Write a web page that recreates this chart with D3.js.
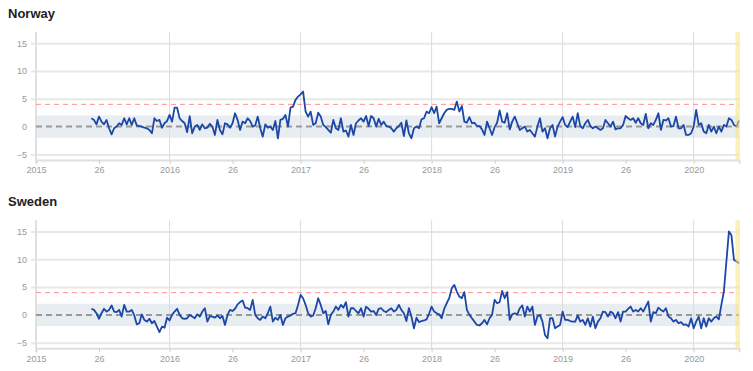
<!DOCTYPE html>
<html lang="en">
  <head>
    <meta charset="utf-8">
    <title>Weekly z-scores: Norway and Sweden</title>
    <style>
      body { margin: 0; background: #fff; }
      svg { font-family: "Liberation Sans", Arial, sans-serif; display: block; }
      .title { font-weight: bold; font-size: 13px; fill: #222; }
      .tick text { fill: #999; font-size: 9px; }
    </style>
  </head>
  <body>
    <div id="viz"></div>
    <script src="https://cdn.jsdelivr.net/npm/d3@7/dist/d3.min.js"></script>
    <script>
      // weeks are counted from 2015 week 1 (index 0)
      const firstWeek = 22
      const lastWeek = 279
      const delayedWeeks = [278, 279]

      const countries = ['Norway', 'Sweden']

      const norway = [
        // 2015
        1.5, 1.2, 0.4, 1.8, 0.9, 0.4, 1.2, -0.3, -1.4, -0.3, 0, 0.6, 0.3, 1.5, 0.4, 1.5, 0.3, 1.5, 0.2, 0.1,
        0, -0.2, -0.3, -0.6, -1.2, 1.5, 1.0, 1.2, -0.2, 0.6, 1.0,
        // 2016
        2.1, 0.9, 3.4, 3.4, 1.5, 1.0, 0.6, -1.0, 1.9, -1.2, 0, 0.3, -0.6, 0.4, -0.3, -0.2, 0.5, 0, -1.5, 1.2,
        -0.6, -1.4, 0.6, 0.4, -0.2, 0.6, 2.4, 1.2, -0.6, 0.9, 0.6, 1.5, 1.0, 0, 0.2, 1.8, -0.3, -1.8, 0.4, -0.2,
        0, -0.6, 1.0, -2.1, 1.2, 1.4, 2.1, 0, 3.4, 3.6, 4.8, 5.4,
        // 2017
        5.8, 6.3, 2.7, 1.8, 2.7, 0.3, 0.6, 2.5, 1.8, 0.3, -0.1, -0.6, -1.1, 1.2, -0.3, -0.6, 1.5, -0.9, -0.7, -1.8,
        0.3, -1.5, 0.6, 1.1, 1.5, 0.9, 1.9, 0.1, 1.9, 1.5, 0, 1.4, 0.3, 0.9, 0.1, 0, -0.3, -0.9, -0.3, 0.1,
        0.7, -1.7, 1.1, -1.2, -2.1, -0.3, 0, -0.3, 1.3, 1.5, 2.7, 2.4,
        // 2018
        3.5, 2.4, 3.6, 0.6, 1.5, 2.4, 3.0, 3.2, 3.2, 3.0, 4.5, 2.7, 3.7, 0.9, 0.7, 1.7, 0.6, 0.7, 0.1, 0.1,
        -0.5, -1.5, 0.9, -0.3, -1.5, -0.1, 0.7, 2.9, 0.9, 0.7, 2.4, -0.5, 0.9, 1.8, 0.6, -0.6, -0.3, 0, -0.9, -0.6,
        -1.2, -1.8, 0, 1.5, -0.9, -0.3, -2.1, -0.3, 0.3, -1.8, 0, 0.9,
        // 2019
        1.7, 0.3, -0.1, 0.9, 1.8, -0.1, 2.4, 0.1, -0.3, 0.6, 1.2, 0.1, -0.3, 0, -0.3, -0.6, -0.3, 1.2, 0.6, 0,
        0.9, -0.5, -0.3, -0.3, 0.3, 1.9, 1.5, 1.2, 1.5, 0.7, 1.5, 0.6, 0.3, 2.3, -0.3, 0.6, 0.3, 1.2, 2.4, -0.6,
        1.2, 1.1, 1.5, 0, 0.1, 1.8, -0.3, -0.3, 0.3, -1.5, -1.5, -1.2,
        // 2020
        0, 3.0, 0.3, 0.6, -0.9, -1.2, 0.3, -0.9, 0, -1.2, 0, -0.9, 0.3, 0, 1.5, 1.2, 0.3, 0, 1.1
      ]

      const sweden = [
        // 2015
        1.1, 0.9, 0.3, -0.7, 0.3, 1.1, 0.6, 0.9, 1.7, 0.6, 0.5, 0.9, -0.3, 1.8, 0.6, 0.6, 0.9, -0.1, -1.7, -1.5,
        0.1, -0.9, -1.2, -0.7, -1.5, -1.1, -2.1, -3.1, -2.1, -2.3, -0.5,
        // 2016
        -1.0, 0, 0.6, 1.1, 0, -0.6, -0.7, -0.6, 0, -0.3, -0.6, 0.1, -0.3, 0.6, 1.2, -1.2, -0.2, -0.3, -0.5, -0.1,
        -0.6, -0.2, -1.8, 0, 0.9, 0.7, 1.1, 1.9, 2.3, 2.6, 1.3, 1.2, 0.9, 2.7, 0, -0.6, -0.9, -0.3, -0.6, 0.3,
        1.5, -1.2, -0.5, -0.9, 0, -1.8, -0.6, -0.3, -0.1, 0.2, 0.3, 1.8,
        // 2017
        3.6, 3.0, 1.8, 0.3, -0.3, -0.1, 1.2, 3.0, 1.8, 0.3, 0.7, -1.7, 0, 0.6, 1.5, 0.9, 1.8, 1.3, 2.3, -0.3,
        1.2, 1.2, 0.7, 0.3, 1.2, -0.3, 1.5, 1.1, 0.6, 0.7, 0, 1.1, 1.2, 0.7, 0.5, 0.9, 1.2, 0.6, 0.9, 1.8,
        0.9, 0.3, -1.1, 1.2, -0.3, -2.4, -0.5, -1.3, -1.1, -1.0, -0.8, 0.2,
        // 2018
        1.5, 0.6, 0.3, 0.1, -0.6, 1.1, 2.1, 3.0, 4.8, 5.4, 4.2, 3.3, 3.0, 4.1, 0.9, 0, -0.6, -1.2, -1.8, -1.9,
        -1.5, -0.9, -1.7, -0.6, 0, 2.7, 2.1, 2.3, 4.3, 3.0, 4.1, -0.9, 0.1, 0.3, 0.1, 1.2, 1.7, -0.3, 1.5, 0.6,
        1.5, -1.8, -0.3, 0, -1.2, -3.6, -4.2, -0.6, -0.6, -2.4, -2.1, -1.8,
        // 2019
        0.6, -0.9, -0.9, -1.1, -1.2, -1.2, -0.1, -1.2, -0.9, -1.8, -0.6, -2.1, -0.3, -2.4, -1.2, -0.6, 0.6, 0.5, -0.3, 0.6,
        0.3, -0.6, 0.5, -1.2, 0.6, 0.6, 1.1, 1.5, 0.6, 0.9, 0.6, 1.2, 0.6, 1.5, 2.4, -1.2, 0.5, 0.3, 1.3, 0.9,
        0.6, 1.2, -0.3, -0.6, -1.2, -0.9, -1.5, -1.3, -1.8, -1.7, -2.1, -0.6,
        // 2020
        -2.4, -1.2, -0.3, -2.4, -0.6, -2.1, -0.6, -1.2, -0.6, -0.3, -0.8, 1.8, 4.2, 9.6, 15.0, 14.3, 9.9, 9.6, 9.3
      ]

      const series = [norway, sweden]

      const xTicks = [0, 25, 53, 78, 105, 130, 157, 182, 209, 234, 261]
      const xTickLabels = ['2015', '26', '2016', '26', '2017', '26', '2018', '26', '2019', '26', '2020']
      const yearTicks = [53, 105, 157, 209, 261]
      const yTicks = [-5, 0, 5, 10, 15]
      const baseline = [-2, 2]
      const threshold = 4

      const width = 753
      const height = 371
      const panelHeight = 188.3
      const margin = { left: 36, right: 14, top: 32, plot: 128 }

      const svg = d3.select('#viz').append('svg').attr('width', width).attr('height', height)

      const x = d3.scaleLinear().domain([0, lastWeek]).range([margin.left, width - margin.right])

      countries.forEach((name, k) => {
        const g = svg.append('g').attr('transform', `translate(0, ${k * panelHeight})`)
        const y = d3.scaleLinear().domain([-6, 17]).range([margin.top + margin.plot, margin.top])
        const data = series[k].map((v, i) => ({ week: firstWeek + i, value: v }))

        g.append('text').attr('class', 'title').attr('x', 8).attr('y', 18).text(name)

        // baseline band
        g.append('rect')
          .attr('x', x(0)).attr('width', x(lastWeek) - x(0))
          .attr('y', y(baseline[1])).attr('height', y(baseline[0]) - y(baseline[1]))
          .attr('fill', '#e8edf2')

        // y grid + labels
        const yAxis = g.append('g')
          .attr('transform', `translate(${x(0) - 5}, 0)`)
          .call(d3.axisLeft(y).tickValues(yTicks).tickSize(-(x(lastWeek) - x(0) + 5)).tickPadding(4))
        yAxis.select('.domain').remove()
        yAxis.selectAll('.tick line')
          .attr('stroke', d => d === 0 ? 'none' : '#e8e8e8')
          .attr('stroke-width', 2)

        // year lines
        g.selectAll('line.year')
          .data(yearTicks)
          .enter()
            .append('line')
              .attr('class', 'year')
              .attr('x1', d => x(d)).attr('x2', d => x(d))
              .attr('y1', y.range()[1]).attr('y2', y.range()[0])
              .attr('stroke', '#dcdcdc')
              .attr('stroke-width', 1)

        // left axis line
        g.append('line')
          .attr('x1', x(0)).attr('x2', x(0))
          .attr('y1', y.range()[1]).attr('y2', y.range()[0])
          .attr('stroke', '#e0e0e0').attr('stroke-width', 2)

        // x axis
        const xAxis = g.append('g')
          .attr('transform', `translate(0, ${y.range()[0]})`)
          .call(d3.axisBottom(x).tickValues(xTicks).tickFormat((d, i) => xTickLabels[i]).tickSize(4).tickPadding(3))
        xAxis.select('.domain').attr('stroke', '#e0e0e0').attr('stroke-width', 2)
        xAxis.selectAll('.tick line').attr('stroke', '#d0d0d0')

        // zero and threshold lines
        g.append('line')
          .attr('x1', x(0)).attr('x2', x(lastWeek))
          .attr('y1', y(0)).attr('y2', y(0))
          .attr('stroke', '#999').attr('stroke-width', 2).attr('stroke-dasharray', '6,4')
        g.append('line')
          .attr('x1', x(0)).attr('x2', x(lastWeek))
          .attr('y1', y(threshold)).attr('y2', y(threshold))
          .attr('stroke', '#ff9090').attr('stroke-width', 1).attr('stroke-dasharray', '5,4')

        const line = d3.line().x(d => x(d.week)).y(d => y(d.value))
        g.append('path')
          .datum(data)
          .attr('d', line)
          .attr('fill', 'none')
          .attr('stroke', '#1c47a6')
          .attr('stroke-width', 1.8)
          .attr('stroke-linejoin', 'round')

        // delayed-registration weeks
        g.append('rect')
          .attr('x', x(delayedWeeks[0]) - 1).attr('width', x(delayedWeeks[1]) - x(delayedWeeks[0]) + 2)
          .attr('y', y.range()[1]).attr('height', margin.plot)
          .attr('fill', 'rgba(250, 228, 130, 0.55)')
      })
    </script>
  </body>
</html>
